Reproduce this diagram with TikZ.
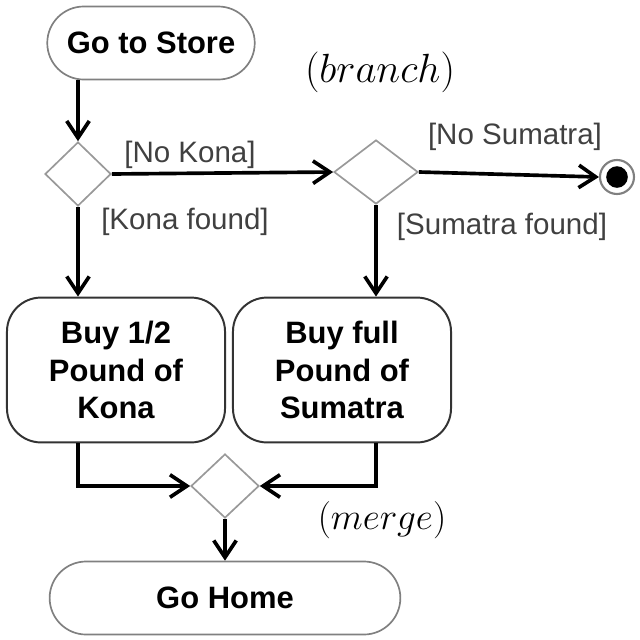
\documentclass[tikz,border=0pt]{standalone}
\usepackage{fix-cm}
\usepackage{fontspec}
\setmainfont{Liberation Sans}
\usetikzlibrary{shapes.misc,shapes.geometric,arrows.meta,positioning}

\tikzset{
	flow/.style={-{Straight Barb[length=12pt,width=16pt]}, line width=2.6pt},
	terminal/.style={rounded rectangle, draw=gray, line width=1.2pt,
		minimum height=1.825cm, font=\fontsize{22}{27}\selectfont\bfseries},
	activity/.style={rectangle, rounded corners=0.85cm, draw=black!80, line width=1.4pt,
		minimum width=5.45cm, minimum height=3.62cm, align=center,
		font=\fontsize{22}{26.5}\selectfont\bfseries},
	choice/.style={diamond, draw=gray!80, line width=1.2pt, inner sep=0pt, minimum height=1.6cm},
	guard/.style={text=black!75, font=\fontsize{21}{25}\selectfont, inner sep=0pt},
	note/.style={font=\fontsize{29}{32}\selectfont, inner sep=0pt},
}

\begin{document}
\begin{tikzpicture}[x=0.025cm, y=-0.025cm]
	\useasboundingbox (0,0) rectangle (640,640);
	% start and end
	\node[terminal, minimum width=5.42cm] (store) at (151,43) {Go to Store};
	\node[terminal, minimum width=9cm] (home) at (225,598) {Go Home};
	% decisions
	\node[choice, minimum width=1.65cm] (d1) at (78,174) {};
	\node[choice, minimum width=2.1cm] (d2) at (376,172) {};
	\node[choice, minimum width=1.7cm] (merge) at (225,486) {};
	\node[circle, draw=gray, line width=1.5pt, minimum size=0.85cm,
		path picture={\fill (path picture bounding box.center) circle (0.27cm);}] (final) at (617,177) {};
	% actions
	\node[activity] (kona) at (116,370) {Buy 1/2\\Pound of\\Kona};
	\node[activity] (sumatra) at (342,370) {Buy full\\Pound of\\Sumatra};
	% guards and notes
	\node[guard] (nokona) at (190,155) {[No Kona]};
	\node[guard] (konafound) at (185,222) {[Kona found]};
	\node[guard] (nosumatra) at (515,137) {[No Sumatra]};
	\node[guard] (sumatrafound) at (502,227) {[Sumatra found]};
	\node[note] (branch) at (380,72) {$(branch)$};
	\node[note, font=\fontsize{26.5}{29}\selectfont] (mergenote) at (382,520) {$(merge)$};
	% flows
	\draw[flow] (store.south -| d1) -- (d1.north);
	\draw[flow] (d1.east) -- (d2.west);
	\draw[flow] (d2.east) -- (final.west);
	\draw[flow] (d1.south) -- (d1.south |- kona.north);
	\draw[flow] (d2.south) -- (d2.south |- sumatra.north);
	\draw[flow] (kona.south -| d1) |- (merge.west);
	\draw[flow] (sumatra.south -| d2) |- (merge.east);
	\draw[flow] (merge.south) -- (home.north);
\end{tikzpicture}
\end{document}
